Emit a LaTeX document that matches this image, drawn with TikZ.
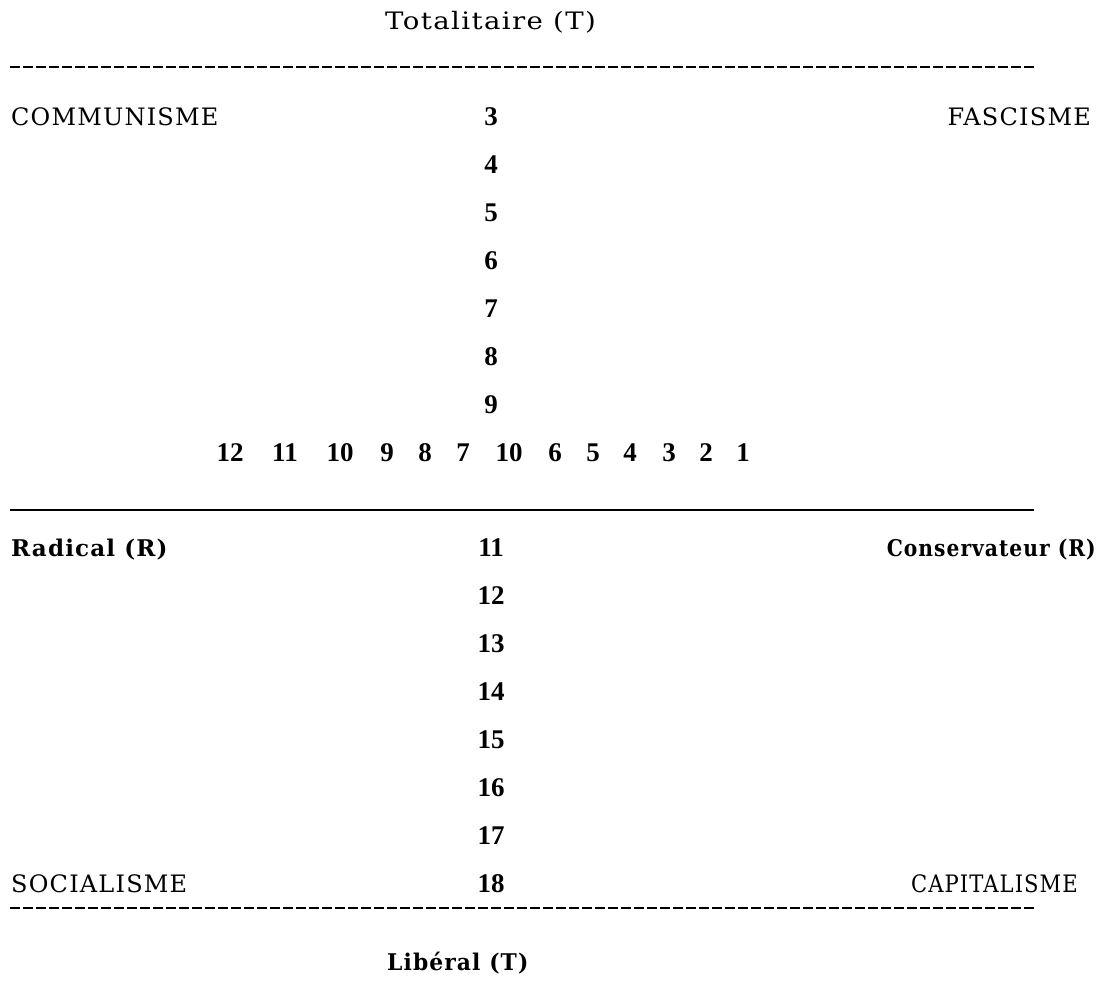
\documentclass[tikz,border=0pt]{standalone}
\usepackage{fontspec}
\usepackage{graphicx}
\setmainfont{DejaVu Serif}[LetterSpace=5]
\newfontfamily\numfont{Liberation Serif}
% horizontal squeeze of a label
\newcommand\hsq[2]{\scalebox{#1}[1]{#2}}
\begin{document}
\begin{tikzpicture}[x=1pt,y=-1pt,
  lbl/.style={inner sep=0pt, font=\fontsize{24}{28}\selectfont},
  blbl/.style={inner sep=0pt, font=\fontsize{23}{27}\selectfont\bfseries},
  num/.style={inner sep=0pt, anchor=base, font=\numfont\fontsize{27}{31}\selectfont\bfseries},
  dashline/.style={line width=2.6pt, dash pattern=on 10pt off 3pt},
  solidline/.style={line width=2.6pt}]
\useasboundingbox (0,0) rectangle (1102,994);

% upper pole
\node[lbl, anchor=base west] (tot) at (385,29) {\hsq{1.15}{Totalitaire (T)}};
\coordinate (tdl) at (10,67);
\coordinate (tdr) at (1034,67);
\draw[dashline] (tdl) -- (tdr);

\node[lbl, anchor=base west] (comm) at (11,125) {COMMUNISME};
\node[lbl, anchor=base east] (fasc) at (1091,125) {FASCISME};

% vertical scale, upper half
\foreach \v [count=\i from 0] in {3,4,5,6,7,8,9}
  \node[num] (c\v) at (491,125+48*\i) {\v};

% horizontal scale
\foreach \v/\x [count=\i] in {12/230,11/285,10/340,9/387,8/425,7/463,10/509,6/555,5/593,4/630,3/669,2/706,1/743}
  \node[num] (h\i) at (\x,461) {\v};

\coordinate (sl) at (10,510);
\coordinate (sr) at (1034,510);
\draw[solidline] (sl) -- (sr);

\node[blbl, anchor=base west] (rad) at (11,556) {Radical (R)};
\node[blbl, anchor=base east] (cons) at (1096,556) {\hsq{0.88}{Conservateur (R)}};

% vertical scale, lower half
\foreach \v [count=\i from 0] in {11,12,13,14,15,16,17,18}
  \node[num] (c\v) at (491,556+48*\i) {\v};

\node[lbl, anchor=base west] (soc) at (11,892) {SOCIALISME};
\node[lbl, anchor=base east] (cap) at (1078,892) {\hsq{0.88}{CAPITALISME}};

% lower pole
\coordinate (bdl) at (10,908);
\coordinate (bdr) at (1034,908);
\draw[dashline] (bdl) -- (bdr);
\node[blbl, anchor=base west] (lib) at (387,970) {\hsq{0.95}{Libéral (T)}};
\end{tikzpicture}
\end{document}
